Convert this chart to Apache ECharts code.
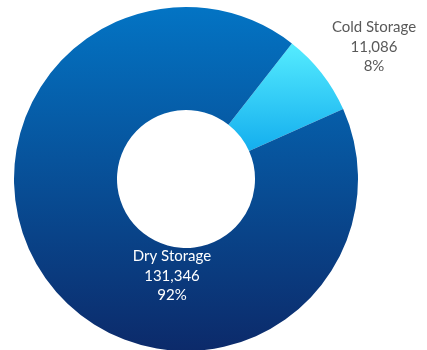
<!DOCTYPE html>
<html><head><meta charset="utf-8">
<script src="https://cdn.jsdelivr.net/npm/echarts@6/dist/echarts.min.js"></script>
<style>html,body{margin:0;padding:0;background:#fff}#c{width:427px;height:350px}</style>
</head><body><div id="c"></div>
<script>
var categories = ['Cold Storage', 'Dry Storage'];
var values = [11086, 131346];
var percents = [8, 92];

var chart = echarts.init(document.getElementById('c'));
var grad = function (a, b) {
  return new echarts.graphic.LinearGradient(0, 0, 0, 1, [{offset: 0, color: a}, {offset: 1, color: b}]);
};
var colors = [grad('#55ecff', '#14aeee'), grad('#0374c4', '#0c2a6a')];
var labelColors = ['#595959', '#ffffff'];
chart.setOption({
  animation: false,
  series: [{
    type: 'pie',
    center: [186, 179],
    radius: [69, 172],
    startAngle: 52,
    clockwise: true,
    avoidLabelOverlap: false,
    data: categories.map(function (n, i) {
      return {
        name: n, value: values[i],
        itemStyle: {color: colors[i]},
        label: {color: labelColors[i]}
      };
    }),
    label: {
      show: true,
      position: 'inside',
      fontFamily: 'Lato',
      fontSize: 15,
      lineHeight: 19.5,
      align: 'center',
      formatter: function (p) {
        return p.name + '\n' + p.value.toLocaleString('en-US') + '\n' + percents[p.dataIndex] + '%';
      }
    },
    labelLine: {show: false},
    labelLayout: function (p) {
      return p.dataIndex === 0
        ? {x: 374, y: 47, align: 'center', verticalAlign: 'middle'}
        : {x: 172, y: 276, align: 'center', verticalAlign: 'middle'};
    }
  }]
});
</script></body></html>
